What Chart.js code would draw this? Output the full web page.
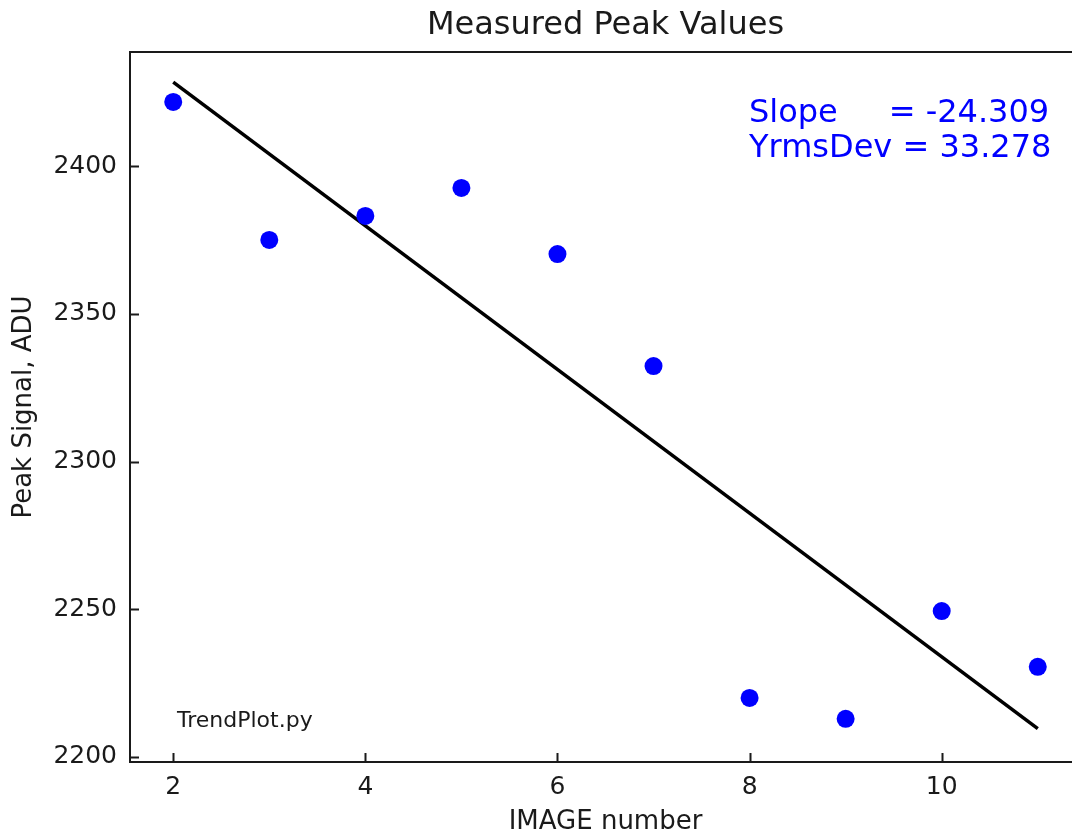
<!DOCTYPE html>
<html>
<head>
<meta charset="utf-8">
<script src="https://cdn.jsdelivr.net/npm/chart.js@4.4.0/dist/chart.umd.min.js"></script>
<style>
  html, body { margin: 0; padding: 0; background: #fff; overflow: hidden; }
  #wrap { width: 1090px; height: 836px; }
</style>
</head>
<body>
<div id="wrap"><canvas id="trendChart"></canvas></div>
<script>
// data
const imageNumbers = [2, 3, 4, 5, 6, 7, 8, 9, 10, 11];
const peakValues = [2421.7, 2375.0, 2383.1, 2392.6, 2370.2, 2332.3, 2220.0, 2212.9, 2249.4, 2230.5];
const fitX = [2, 11];
const fitY = [2428.4, 2209.6];
const xTicks = [2, 4, 6, 8, 10];
const yTicks = [2200, 2250, 2300, 2350, 2400];
const statLines = ['Slope     = -24.309', 'YrmsDev = 33.278'];

const FONT = 'DejaVu Sans';
const INK = '#1a1a1a';

// spines, inward ticks, title and text notes
const framePlugin = {
    id: 'frame',
    afterDraw(chart) {
        const { ctx, chartArea: a, scales } = chart;
        ctx.save();
        ctx.strokeStyle = INK;
        ctx.lineWidth = 2;
        ctx.beginPath();
        ctx.moveTo(a.left, a.top); ctx.lineTo(a.right, a.top);
        ctx.lineTo(a.right, a.bottom); ctx.lineTo(a.left, a.bottom);
        ctx.closePath();
        ctx.stroke();

        ctx.beginPath();
        xTicks.forEach(v => {
            const px = Math.round(scales.x.getPixelForValue(v)) + 0.5;
            ctx.moveTo(px, a.bottom); ctx.lineTo(px, a.bottom - 9);
        });
        yTicks.forEach(v => {
            const py = Math.round(scales.y.getPixelForValue(v)) + 0.5;
            ctx.moveTo(a.left, py); ctx.lineTo(a.left + 9, py);
        });
        ctx.stroke();

        ctx.fillStyle = INK;
        ctx.font = '32px "' + FONT + '"';
        ctx.textAlign = 'center';
        ctx.textBaseline = 'alphabetic';
        ctx.fillText('Measured Peak Values', (a.left + a.right) / 2, 34);

        ctx.fillStyle = '#0000ff';
        ctx.textAlign = 'left';
        statLines.forEach((t, i) => ctx.fillText(t, 749, 122 + i * 35));

        ctx.fillStyle = INK;
        ctx.font = '22px "' + FONT + '"';
        ctx.fillText('TrendPlot.py', 177, 727);
        ctx.restore();
    }
};

new Chart(document.getElementById('trendChart'), {
    type: 'scatter',
    data: {
        datasets: [{
            type: 'line',
            data: fitX.map((x, i) => ({ x: x, y: fitY[i] })),
            borderColor: '#000',
            borderWidth: 3.5,
            pointRadius: 0,
            fill: false,
            order: 2
        }, {
            data: imageNumbers.map((x, i) => ({ x: x, y: peakValues[i] })),
            backgroundColor: '#0000ff',
            borderWidth: 0,
            pointRadius: 9,
            order: 1
        }]
    },
    options: {
        responsive: true,
        maintainAspectRatio: false,
        animation: false,
        layout: { padding: { top: 52, right: 9, bottom: 0, left: 0 } },
        plugins: {
            legend: { display: false },
            tooltip: { enabled: false }
        },
        scales: {
            x: {
                type: 'linear',
                min: 1.55,
                max: 11.45,
                afterBuildTicks: s => { s.ticks = xTicks.map(v => ({ value: v })); },
                afterFit: s => { s.height = 74; },
                grid: { display: false, drawTicks: false },
                border: { display: false },
                ticks: { color: INK, font: { family: FONT, size: 25 }, padding: 10, callback: v => String(v) },
                title: {
                    display: true,
                    text: 'IMAGE number',
                    color: INK,
                    font: { family: FONT, size: 26 },
                    padding: { top: 0, bottom: -2 }
                }
            },
            y: {
                min: 2198.3,
                max: 2438.6,
                afterBuildTicks: s => { s.ticks = yTicks.map(v => ({ value: v })); },
                afterFit: s => { s.width = 130; },
                grid: { display: false, drawTicks: false },
                border: { display: false },
                ticks: { color: INK, font: { family: FONT, size: 25 }, padding: 13, callback: v => String(v) },
                title: {
                    display: true,
                    text: 'Peak Signal, ADU',
                    color: INK,
                    font: { family: FONT, size: 26 },
                    padding: { top: 9, bottom: 0 }
                }
            }
        }
    },
    plugins: [framePlugin]
});
</script>
</body>
</html>
